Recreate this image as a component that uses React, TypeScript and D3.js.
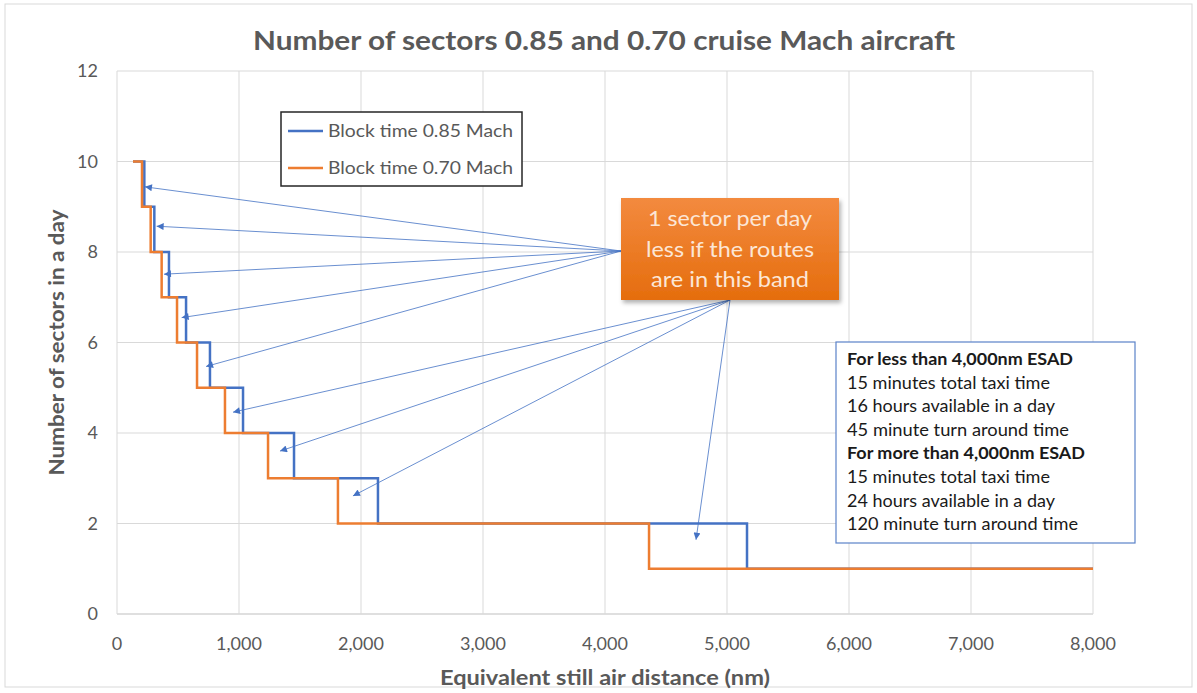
import React from "react";
import * as d3 from "d3";

// ---------- DATA ----------
const xTicks = [0, 1000, 2000, 3000, 4000, 5000, 6000, 7000, 8000];
const yTicks = [0, 2, 4, 6, 8, 10, 12];
const sectors = [10, 9, 8, 7, 6, 5, 4, 3, 2, 1];
const startDistance = 131;
// distance (nm) up to which each sector count applies
const limits085 = [224, 306, 426, 566, 762, 1033, 1451, 2139, 5164, 8000];
const limits070 = [205, 276, 366, 492, 656, 885, 1238, 1811, 4361, 8000];
const seriesNames = ["Block time 0.85 Mach", "Block time 0.70 Mach"];
// arrow targets (distance, sectors): first five from the callout's left side, rest from its bottom
const arrowTargetsUpper: [number, number][] = [
  [229, 9.44], [325, 8.57], [385, 7.51], [530, 6.55], [730, 5.47],
];
const arrowTargetsLower: [number, number][] = [
  [951, 4.46], [1336, 3.6], [1934, 2.61], [4746, 1.64],
];
const calloutLines = ["1 sector per day", "less if the routes", "are in this band"];
const noteLines = [
  { text: "For less than 4,000nm ESAD", bold: true },
  { text: "15 minutes total taxi time", bold: false },
  { text: "16 hours available in a day", bold: false },
  { text: "45 minute turn around time", bold: false },
  { text: "For more than 4,000nm ESAD", bold: true },
  { text: "15 minutes total taxi time", bold: false },
  { text: "24 hours available in a day", bold: false },
  { text: "120 minute turn around time", bold: false },
];
const noteWidths = [226, 203, 208, 222, 238, 203, 208, 231];
const calloutWidths = [164, 168, 158];

// ---------- LAYOUT ----------
const W = 1197;
const H = 693;
const P = { left: 117, right: 1093, top: 71, bottom: 614 };
const FONT = "Lato, 'Open Sans', sans-serif";
const BLUE = "#4472c4";
const ORANGE = "#ed7d31";
const GREY = "#595959";

function stepPoints(limits: number[]): [number, number][] {
  const pts: [number, number][] = [[startDistance, sectors[0]]];
  limits.forEach((lim, i) => {
    const next = i < sectors.length - 1 ? sectors[i + 1] : sectors[i];
    pts.push([lim, next]);
  });
  return pts;
}

export default function App() {
  const x = d3.scaleLinear().domain([0, 8000]).range([P.left, P.right]);
  const y = d3.scaleLinear().domain([0, 12]).range([P.bottom, P.top]);
  const fmt = d3.format(",");
  const line = d3
    .line<[number, number]>()
    .x((d) => x(d[0]))
    .y((d) => y(d[1]))
    .curve(d3.curveStepAfter);

  const originA = [621, 251];
  const originB = [730, 300];

  return (
    <svg
      width={W}
      height={H}
      style={{ position: "absolute", left: 0, top: 0, background: "#fff" }}
      fontFamily={FONT}
    >
      <defs>
        <marker
          id="ah"
          viewBox="0 0 10 10"
          refX="10"
          refY="5"
          markerWidth="8"
          markerHeight="7"
          markerUnits="userSpaceOnUse"
          orient="auto"
        >
          <path d="M0,0 L10,5 L0,10 z" fill={BLUE} />
        </marker>
        <linearGradient id="og" x1="0" y1="0" x2="0" y2="1">
          <stop offset="0" stopColor="#f38a3f" />
          <stop offset="1" stopColor="#e56d0d" />
        </linearGradient>
        <filter id="sh" x="-10%" y="-10%" width="130%" height="130%">
          <feDropShadow dx="2" dy="3" stdDeviation="2" floodColor="#000" floodOpacity="0.3" />
        </filter>
      </defs>
      <rect x={0} y={0} width={W} height={H} fill="#fff" />
      <rect x={5} y={4} width={1187} height={683} fill="none" stroke="#d9d9d9" strokeWidth={1} />

      {/* title */}
      <text
        x={604}
        y={50}
        textAnchor="middle"
        fontSize={26}
        fontWeight="bold"
        fill={GREY}
        textLength={702}
        lengthAdjust="spacingAndGlyphs"
      >
        Number of sectors 0.85 and 0.70 cruise Mach aircraft
      </text>

      {/* gridlines */}
      {yTicks.map((t) => (
        <line key={"gy" + t} x1={P.left} x2={P.right} y1={y(t)} y2={y(t)} stroke={t === 0 ? "#bfbfbf" : "#d9d9d9"} strokeWidth={1} />
      ))}
      {xTicks.map((t) => (
        <line key={"gx" + t} x1={x(t)} x2={x(t)} y1={P.top} y2={P.bottom} stroke="#d9d9d9" strokeWidth={1} />
      ))}

      {/* tick labels */}
      {yTicks.map((t) => (
        <text key={"ty" + t} x={98} y={y(t)} dy="0.35em" textAnchor="end" fontSize={18} fill={GREY}>
          {t}
        </text>
      ))}
      {xTicks.map((t) => (
        <text key={"tx" + t} x={x(t)} y={644} dy="0.35em" textAnchor="middle" fontSize={18} fill={GREY}>
          {fmt(t)}
        </text>
      ))}

      {/* axis titles */}
      <text
        x={605}
        y={678}
        dy="0.35em"
        textAnchor="middle"
        fontSize={21}
        fontWeight="bold"
        fill={GREY}
        textLength={330}
        lengthAdjust="spacingAndGlyphs"
      >
        Equivalent still air distance (nm)
      </text>
      <text
        transform={`translate(57,${(P.top + P.bottom) / 2}) rotate(-90)`}
        dy="0.35em"
        textAnchor="middle"
        fontSize={21}
        fontWeight="bold"
        fill={GREY}
        textLength={266}
        lengthAdjust="spacingAndGlyphs"
      >
        Number of sectors in a day
      </text>

      {/* series */}
      <path d={line(stepPoints(limits085)) || ""} fill="none" stroke={BLUE} strokeWidth={2.5} />
      <path d={line(stepPoints(limits070)) || ""} fill="none" stroke={ORANGE} strokeWidth={2.5} />

      {/* legend */}
      <rect x={281} y={112} width={241} height={74} fill="#fff" stroke="#262626" strokeWidth={1.5} />
      {[BLUE, ORANGE].map((c, i) => (
        <g key={"lg" + i}>
          <line x1={288} x2={323} y1={131 + i * 37} y2={131 + i * 37} stroke={c} strokeWidth={2.5} />
          <text
            x={328}
            y={131 + i * 37}
            dy="0.35em"
            fontSize={17}
            fill={GREY}
            textLength={185}
            lengthAdjust="spacingAndGlyphs"
          >
            {seriesNames[i]}
          </text>
        </g>
      ))}

      {/* arrows */}
      {arrowTargetsUpper.map((d, i) => (
        <line key={"au" + i} x1={originA[0]} y1={originA[1]} x2={x(d[0])} y2={y(d[1])} stroke={BLUE} strokeWidth={0.8} markerEnd="url(#ah)" />
      ))}
      {arrowTargetsLower.map((d, i) => (
        <line key={"al" + i} x1={originB[0]} y1={originB[1]} x2={x(d[0])} y2={y(d[1])} stroke={BLUE} strokeWidth={0.8} markerEnd="url(#ah)" />
      ))}

      {/* callout */}
      <rect x={621} y={198} width={218} height={102} fill="url(#og)" filter="url(#sh)" />
      {calloutLines.map((s, i) => (
        <text
          key={"cl" + i}
          x={730}
          y={219 + i * 30.5}
          dy="0.35em"
          textAnchor="middle"
          fontSize={21}
          fill="#fce6d6"
          textLength={calloutWidths[i]}
          lengthAdjust="spacingAndGlyphs"
        >
          {s}
        </text>
      ))}

      {/* note box */}
      <rect x={836} y={342} width={299} height={201} fill="#fff" stroke="#5b82c8" strokeWidth={1.2} />
      {noteLines.map((l, i) => (
        <text
          key={"nl" + i}
          x={847}
          y={359 + i * 23.6}
          dy="0.35em"
          fontSize={17}
          fontWeight={l.bold ? "bold" : "normal"}
          fill="#1a1a1a"
          textLength={noteWidths[i]}
          lengthAdjust="spacingAndGlyphs"
        >
          {l.text}
        </text>
      ))}
    </svg>
  );
}
